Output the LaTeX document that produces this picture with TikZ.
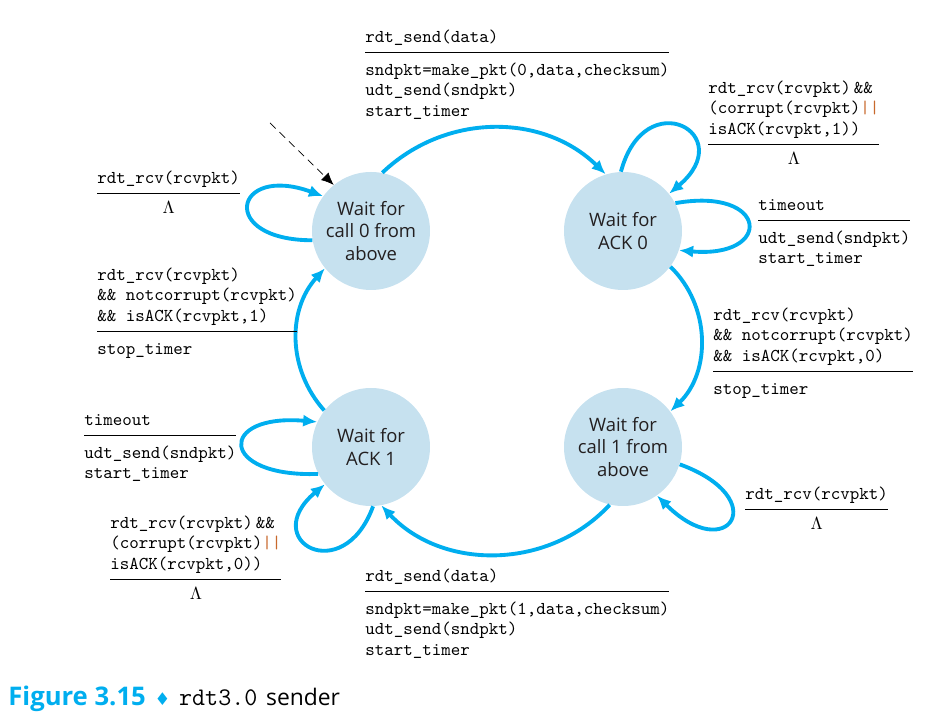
\documentclass[tikz,border=0pt]{standalone}
\usepackage{fontspec}
\usetikzlibrary{positioning,arrows.meta}
\setmainfont{Open Sans}
\newfontfamily\symfont{DejaVu Sans}
\definecolor{arrowblue}{HTML}{00AEEF}
\definecolor{statefill}{HTML}{C6E1EF}
\definecolor{barorange}{HTML}{C8692D}
\definecolor{textdark}{HTML}{231F20}
\setlength{\arrayrulewidth}{0.6pt}
\newcommand{\orbars}{\textcolor{barorange}{||}}
\newcommand{\trans}[2]{\begin{tabular}[t]{@{}l@{}}#1\\[2pt]\hline\rule{0pt}{12.7pt}#2\end{tabular}}
\newcommand{\transnil}[1]{\begin{tabular}[t]{@{}l@{}}#1\\[2pt]\hline\multicolumn{1}{@{}c@{}}{\rule{0pt}{11pt}$\Lambda$}\end{tabular}}

\begin{document}
\begin{tikzpicture}[node distance={4.32cm and 5.04cm}, on grid, >={Latex[length=8pt,width=7pt]},
    state/.style = {circle, fill=statefill, minimum size=2.36cm, inner sep=0pt, align=center,
        text=textdark, font=\fontsize{10.5}{12.75}\selectfont},
    move/.style = {->, arrowblue, line width=2.2pt},
    lab/.style = {anchor=base west, inner sep=0pt, font=\ttfamily\fontsize{10.3}{11.6}\selectfont}]
    \useasboundingbox (0,0) rectangle (18.64,-14.36);

    \node[state] (W0) at (7.42,-4.62) {Wait for\\call 0 from\\above};
    \node[state] (A0) [right=of W0] {Wait for\\ACK 0};
    \node[state] (W1) [below=of A0] {Wait for\\call 1 from\\above};
    \node[state] (A1) [below=of W0] {Wait for\\ACK 1};

    \coordinate (init) at (5.40,-2.46);
    \draw[->, dashed, dash pattern=on 4.5pt off 3pt, thin, >={Latex[length=7pt,width=6pt]}] (init) -- (W0.129);

    \draw[move] (W0.79) to[bend left=44] (A0.107);
    \draw[move] (A0.-37) to[bend left=46] (W1.37);
    \draw[move] (W1.-103) to[bend left=47] (A1.-80);
    \draw[move] (A1.142) to[bend left=42] (W0.219);

    \draw[move] (W0.189) to[out=180, in=160, distance=1.9cm] (W0.144);
    \draw[move] (A0.92) to[out=75, in=40, distance=1.85cm] (A0.39);
    \draw[move] (A0.28) to[out=10, in=-5, distance=1.9cm] (A0.-19);
    \draw[move] (W1.-17) to[out=-20, in=-45, distance=2cm] (W1.-55);
    \draw[move] (A1.207) to[out=182, in=175, distance=2cm] (A1.155);
    \draw[move] (A1.-88) to[out=-110, in=220, distance=1.75cm] (A1.219);

    \node[lab] (l1) at (7.30,-0.85) {\trans{rdt\_send(data)}{sndpkt=make\_pkt(0,data,checksum)\\udt\_send(sndpkt)\\start\_timer}};
    \node[lab] (l2) at (14.16,-1.87) {\transnil{rdt\_rcv(rcvpkt)\,\&\&\\(corrupt(rcvpkt)\orbars\\isACK(rcvpkt,1))}};
    \node[lab] (l3) at (15.16,-4.21) {\trans{timeout}{udt\_send(sndpkt)\\start\_timer}};
    \node[lab] (l4) at (14.26,-6.41) {\trans{rdt\_rcv(rcvpkt)\\\&\& notcorrupt(rcvpkt)\\\&\& isACK(rcvpkt,0)}{stop\_timer}};
    \node[lab] (l5) at (14.90,-9.99) {\transnil{rdt\_rcv(rcvpkt)}};
    \node[lab] (l6) at (7.30,-11.63) {\trans{rdt\_send(data)}{sndpkt=make\_pkt(1,data,checksum)\\udt\_send(sndpkt)\\start\_timer}};
    \node[lab] (l7) at (2.20,-10.57) {\transnil{rdt\_rcv(rcvpkt)\,\&\&\\(corrupt(rcvpkt)\orbars\\isACK(rcvpkt,0))}};
    \node[lab] (l8) at (1.68,-8.51) {\trans{timeout}{udt\_send(sndpkt)\\start\_timer}};
    \node[lab] (l9) at (1.94,-5.61) {\trans{rdt\_rcv(rcvpkt)\\\&\& notcorrupt(rcvpkt)\\\&\& isACK(rcvpkt,1)}{stop\_timer}};
    \node[lab] (l10) at (1.94,-3.67) {\transnil{rdt\_rcv(rcvpkt)}};

    \node[anchor=base west, inner sep=0pt] (cap) at (0.16,-14.12)
        {{\fontsize{14.6}{16}\selectfont\bfseries\color{arrowblue}Figure 3.15}\hspace{5pt}{\symfont\fontsize{10}{12}\selectfont\color{arrowblue}♦}\hspace{5pt}{\ttfamily\fontsize{14.4}{16}\selectfont rdt3.0}\hspace{5pt}{\fontsize{13}{16}\selectfont sender}};
\end{tikzpicture}
\end{document}
